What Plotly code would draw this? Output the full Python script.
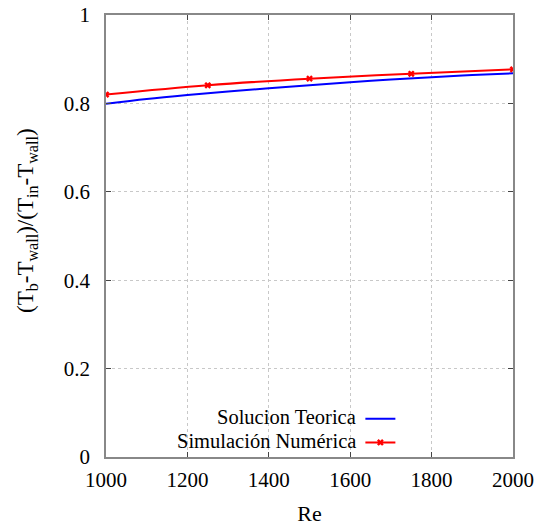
import plotly.graph_objects as go

re_teo = [1000, 1100, 1200, 1300, 1400, 1500, 1600, 1700, 1800, 1900, 2000]
teo = [0.799, 0.810, 0.819, 0.827, 0.834, 0.841, 0.848, 0.854, 0.859, 0.864, 0.868]

re_num = [1000, 1250, 1500, 1750, 2000]
num = [0.820, 0.841, 0.856, 0.867, 0.877]

labels = ["Solucion Teorica", "Simulación Numérica"]
x_ticks = [1000, 1200, 1400, 1600, 1800, 2000]
y_ticks = [0, 0.2, 0.4, 0.6, 0.8, 1]
y_ticklabels = ["0", "0.2", "0.4", "0.6", "0.8", "1"]
y_title = "(T<sub>b</sub>-T<sub>wall</sub>)/(T<sub>in</sub>-T<sub>wall</sub>)"
x_title = "Re"

FONT = "Liberation Serif, Times New Roman, serif"

fig = go.Figure()
fig.add_trace(go.Scatter(x=re_teo, y=teo, mode="lines", name=" ",
                         line=dict(color="#0000ff", width=2, shape="spline")))
fig.add_trace(go.Scatter(x=re_num, y=num, mode="lines+markers", name="  ",
                         line=dict(color="#ff0000", width=2, shape="spline"),
                         marker=dict(symbol="x", size=6, color="#ff0000",
                                     line=dict(width=0))))

ax_common = dict(showline=True, linecolor="#888888", linewidth=1.5, mirror="ticks",
                 ticks="inside", ticklen=5, tickcolor="#444444", tickwidth=1,
                 showgrid=True, gridcolor="#c8c8c8", griddash="dot", gridwidth=1,
                 zeroline=False, automargin=False, ticklabeloverflow="allow",
                 tickfont=dict(family=FONT, size=21, color="black"))

fig.update_xaxes(range=[1000, 2000], tickvals=x_ticks, ticklabelstandoff=3,
                 title=dict(text=x_title, font=dict(family=FONT, size=22, color="black"),
                            standoff=15),
                 **ax_common)
fig.update_yaxes(range=[0, 1], tickvals=y_ticks, ticktext=y_ticklabels,
                 ticklabelstandoff=10, **ax_common)

annotations = [dict(text=y_title, xref="paper", yref="paper", x=-0.194, y=0.534,
                    xanchor="center", yanchor="middle", textangle=-90,
                    showarrow=False, font=dict(family=FONT, size=23, color="black"))]
for i, lab in enumerate(labels):
    annotations.append(dict(text=lab, xref="paper", yref="paper",
                            x=0.62, y=[0.0915, 0.0365][i], xanchor="right",
                            yanchor="middle", showarrow=False,
                            font=dict(family=FONT, size=20.5, color="black")))

fig.update_layout(
    width=539, height=526,
    margin=dict(l=106, r=26, t=15, b=69),
    plot_bgcolor="white", paper_bgcolor="white",
    showlegend=True,
    legend=dict(x=0.625, y=0.125, xanchor="left", yanchor="top",
                bgcolor="rgba(0,0,0,0)", font=dict(family=FONT, size=16),
                tracegroupgap=0, itemwidth=30),
    annotations=annotations,
)

fig.write_html("out.html", config={"displayModeBar": False},
               post_script="document.body.style.margin='0';document.body.style.overflow='hidden';")
